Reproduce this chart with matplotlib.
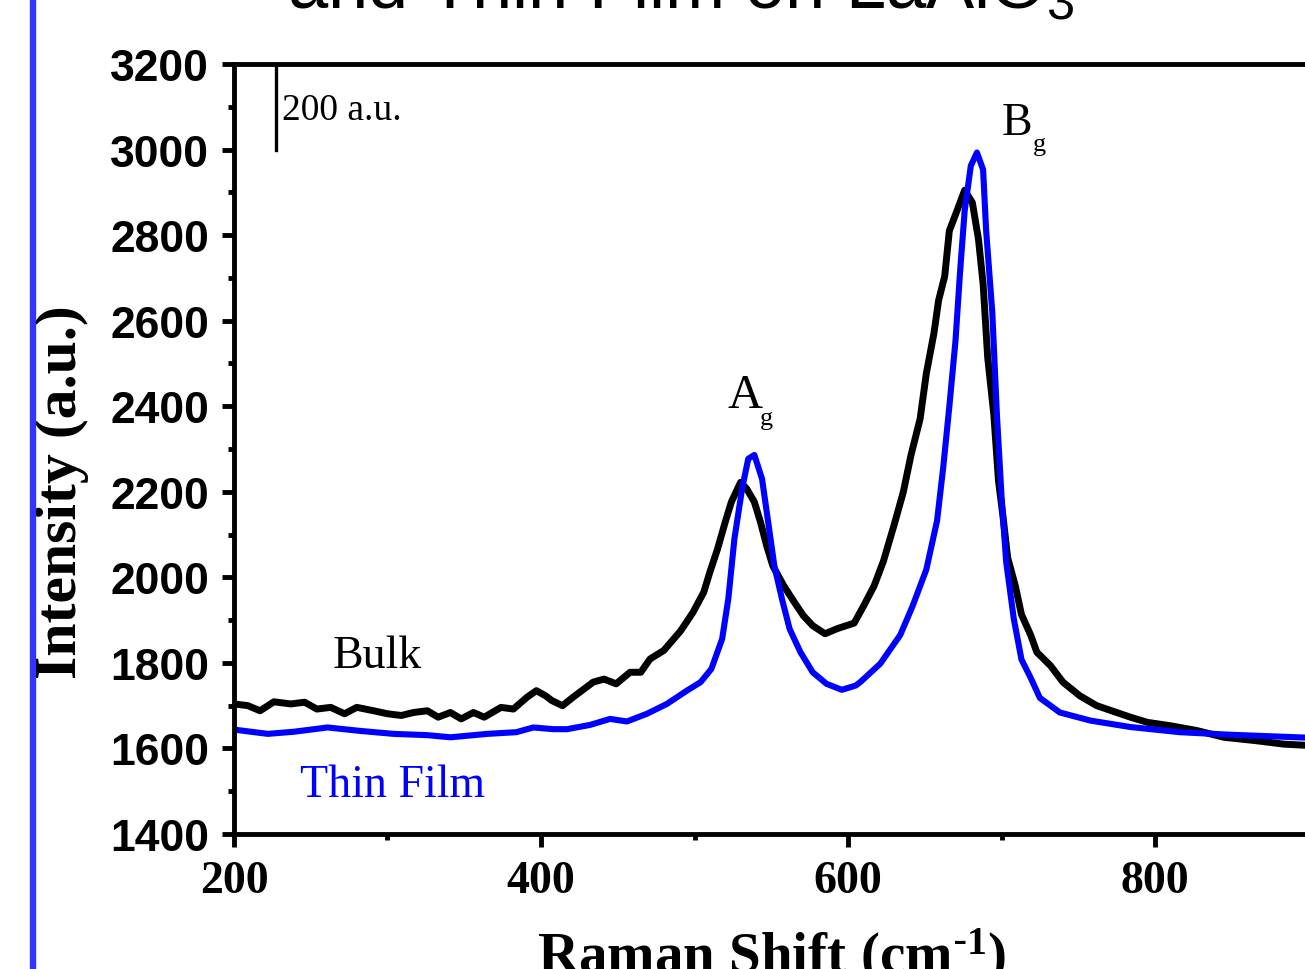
#!/usr/bin/env python
# Raman spectra: bulk vs thin film on LaAlO3
import matplotlib
matplotlib.use("Agg")
import matplotlib.pyplot as plt
from matplotlib.patches import Rectangle
from matplotlib.ticker import MultipleLocator

# values
bulk_shift = [200, 209, 217, 226, 237, 246, 254, 263, 272, 280, 291, 300, 309,
              317, 326, 333, 341, 348, 356, 363, 374, 382, 391, 397, 403, 407,
              414, 421, 434, 441, 449, 458, 465, 471, 480, 491, 499, 506, 510,
              515, 520, 524, 530, 534, 539, 543, 547, 551, 558, 565, 571, 577,
              585, 593, 604, 610, 617, 623, 630, 636, 641, 647, 651, 656, 659,
              663, 666, 671, 676, 681, 685, 688, 691, 695, 698, 701, 704, 709,
              713, 719, 723, 732, 740, 751, 762, 775, 784, 795, 810, 827, 845,
              866, 884, 900]
bulk_int = [1704, 1700, 1688, 1709, 1704, 1708, 1692, 1696, 1681, 1696, 1688,
            1681, 1677, 1684, 1688, 1673, 1684, 1669, 1684, 1673, 1696, 1692,
            1720, 1735, 1723, 1712, 1700, 1720, 1755, 1762, 1751, 1778, 1778,
            1809, 1829, 1875, 1918, 1965, 2012, 2066, 2129, 2176, 2222, 2207,
            2176, 2129, 2074, 2027, 1981, 1942, 1910, 1887, 1868, 1880, 1893,
            1932, 1980, 2037, 2122, 2199, 2285, 2371, 2476, 2571, 2647, 2704,
            2810, 2857, 2905, 2876, 2790, 2686, 2514, 2380, 2227, 2141, 2046,
            1980, 1913, 1865, 1825, 1793, 1755, 1723, 1700, 1684, 1673, 1661,
            1653, 1642, 1626, 1618, 1610, 1607]

film_shift = [200, 222, 239, 261, 282, 304, 326, 341, 365, 384, 395, 408, 417,
              432, 445, 456, 469, 482, 495, 504, 511, 518, 522, 526, 531, 535,
              539, 544, 548, 552, 557, 562, 569, 577, 586, 596, 605, 608, 621,
              634, 642, 651, 658, 662, 666, 670, 673, 676, 680, 684, 688, 690,
              694, 697, 700, 703, 708, 713, 719, 725, 738, 758, 784, 816, 849,
              900]
film_int = [1644, 1634, 1639, 1649, 1641, 1634, 1631, 1626, 1634, 1638, 1649,
            1645, 1645, 1655, 1669, 1663, 1681, 1704, 1735, 1755, 1786, 1856,
            1949, 2090, 2207, 2277, 2286, 2230, 2129, 2027, 1949, 1879, 1825,
            1778, 1751, 1737, 1747, 1755, 1798, 1865, 1932, 2018, 2132, 2256,
            2399, 2552, 2714, 2857, 2962, 2993, 2953, 2810, 2619, 2380, 2190,
            2037, 1903, 1808, 1765, 1718, 1684, 1665, 1650, 1638, 1632, 1625]

y_ticks = [1400, 1600, 1800, 2000, 2200, 2400, 2600, 2800, 3000, 3200]
x_ticks = [200, 400, 600, 800]

serif = ['Liberation Serif', 'DejaVu Serif']
sans = ['Liberation Sans', 'DejaVu Sans']

fig = plt.figure(figsize=(13.05, 9.70), dpi=100)
ax = fig.add_axes([0.1793, 0.1392, 0.8234, 0.7938])

ax.plot(bulk_shift, bulk_int, color='black', lw=5, solid_joinstyle='round')
ax.plot(film_shift, film_int, color='#0000ff', lw=4.4, solid_joinstyle='round')

ax.set_xlim(200, 900)
ax.set_ylim(1400, 3200)
ax.set_xticks(x_ticks)
ax.set_yticks(y_ticks)
ax.xaxis.set_minor_locator(MultipleLocator(100))
ax.yaxis.set_minor_locator(MultipleLocator(100))

for s in ax.spines.values():
    s.set_linewidth(3.5)
ax.tick_params(which='major', direction='out', length=9, width=3.5, pad=9)
ax.tick_params(which='minor', direction='out', length=4, width=3.5)
ax.tick_params(axis='x', which='major', pad=10)

for lab in ax.get_yticklabels():
    lab.set_fontfamily(sans)
    lab.set_fontweight('bold')
    lab.set_fontsize(32)
for lab in ax.get_xticklabels():
    lab.set_fontfamily(serif)
    lab.set_fontweight('bold')
    lab.set_fontsize(33)

ax.set_ylabel('Intensity (a.u.)', fontfamily=serif, fontweight='bold', fontsize=43)
ax.yaxis.set_label_coords(-0.135, 0.445)
ax.set_xlabel(r'Raman Shift (cm$\mathregular{^{\text{-}1}}$)', fontfamily=serif,
              fontweight='bold', fontsize=41)
ax.xaxis.set_label_coords(0.5, -0.119)

# scale bar
ax.plot([227.4, 227.4], [3000, 3200], color='black', lw=2.4)
ax.text(231, 3071, '200 a.u.', fontfamily=serif, fontsize=27)

# peak labels
ax.text(521.2, 2398, 'A', fontfamily=serif, fontsize=35)
ax.text(542.7, 2358, 'g', fontfamily=serif, fontsize=19)
ax.text(700.3, 3036, 'B', fontfamily=serif, fontsize=33)
ax.text(720.5, 2999, 'g', fontfamily=serif, fontsize=19)

ax.text(264.5, 1790, 'Bulk', fontfamily=serif, fontsize=33)
ax.text(243, 1489, 'Thin Film', fontfamily=serif, fontsize=33, color='#0000ff')

# slide remnants: title line cut at the top, blue bar at the left
fig.text(681 / 1305, 1 - 8 / 970, r'and Thin Film on LaAlO$\mathregular{_3}$',
         fontfamily=sans, fontsize=52, ha='center', va='baseline')
fig.patches.append(Rectangle((30 / 1305, 0), 5 / 1305, 1, transform=fig.transFigure,
                             color='#3333ff', zorder=5))

fig.savefig('out.png', dpi=100)
